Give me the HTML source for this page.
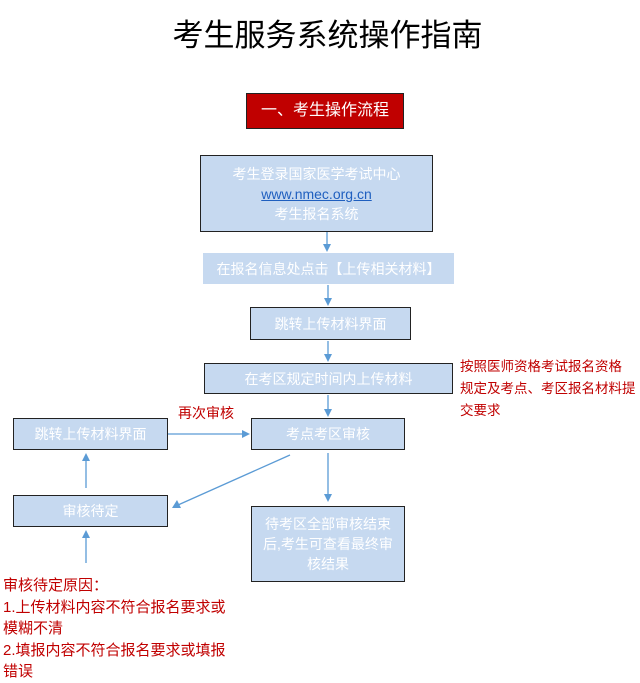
<!DOCTYPE html>
<html><head><meta charset="utf-8"><style>
body{margin:0;width:640px;height:683px;background:#fff;position:relative;overflow:hidden;font-family:"Liberation Sans","Noto Sans CJK SC",sans-serif}
.b{position:absolute;box-sizing:border-box;background:#c6d9f0;border:1px solid #222;color:#fff;font-size:14px;display:flex;flex-direction:column;align-items:center;justify-content:center;text-align:center;line-height:20px}
.r{position:absolute;color:#c00000;font-size:14px;line-height:22px}
</style></head><body>
<div style="position:absolute;left:0;width:655px;top:10px;text-align:center;font-size:31px;color:#000">考生服务系统操作指南</div>
<div class="b" style="left:246px;top:93px;width:158px;height:36px;background:#c00000;font-size:16px">一、考生操作流程</div>
<div class="b" style="left:200px;top:155px;width:233px;height:77px"><span>考生登录国家医学考试中心</span><span style="color:#1f5fbf;text-decoration:underline">www.nmec.org.cn</span><span>考生报名系统</span></div>
<div class="b" style="left:203px;top:253px;width:251px;height:31px;border:none">在报名信息处点击【上传相关材料】</div>
<div class="b" style="left:250px;top:307px;width:161px;height:33px">跳转上传材料界面</div>
<div class="b" style="left:204px;top:363px;width:249px;height:31px">在考区规定时间内上传材料</div>
<div class="b" style="left:251px;top:418px;width:154px;height:32px">考点考区审核</div>
<div class="b" style="left:13px;top:418px;width:155px;height:32px">跳转上传材料界面</div>
<div class="b" style="left:13px;top:495px;width:155px;height:32px">审核待定</div>
<div class="b" style="left:251px;top:506px;width:154px;height:76px;padding:0 6px">待考区全部审核结束后,考生可查看最终审核结果</div>
<div class="r" style="left:460px;top:356px;width:180px;font-size:13.5px">按照医师资格考试报名资格<br>规定及考点、考区报名材料提<br>交要求</div>
<div class="r" style="left:178px;top:402px">再次审核</div>
<div class="r" style="left:3px;top:575px;width:240px;font-size:15px;line-height:21.5px">审核待定原因：<br>1.上传材料内容不符合报名要求或<br>模糊不清<br>2.填报内容不符合报名要求或填报<br>错误</div>
<svg width="640" height="683" style="position:absolute;left:0;top:0" fill="#5b9bd5" stroke="#5b9bd5">
<g stroke-width="1.3">
<line x1="327" y1="232" x2="327" y2="246"/><polygon points="323,244 331,244 327,252" stroke="none"/>
<line x1="328" y1="285" x2="328" y2="300"/><polygon points="324,298 332,298 328,306" stroke="none"/>
<line x1="328" y1="341" x2="328" y2="356"/><polygon points="324,354 332,354 328,362" stroke="none"/>
<line x1="328" y1="395" x2="328" y2="411"/><polygon points="324,409 332,409 328,417" stroke="none"/>
<line x1="168" y1="434" x2="244" y2="434"/><polygon points="242,430 242,438 250,434" stroke="none"/>
<line x1="86" y1="488" x2="86" y2="459"/><polygon points="82,461 90,461 86,453" stroke="none"/>
<line x1="86" y1="563" x2="86" y2="536"/><polygon points="82,538 90,538 86,530" stroke="none"/>
<line x1="328" y1="453" x2="328" y2="496"/><polygon points="324,494 332,494 328,502" stroke="none"/>
<line x1="290" y1="455" x2="178" y2="505"/><polygon points="172,508 177,500 181,508" stroke="none"/>
</g></svg>
</body></html>
